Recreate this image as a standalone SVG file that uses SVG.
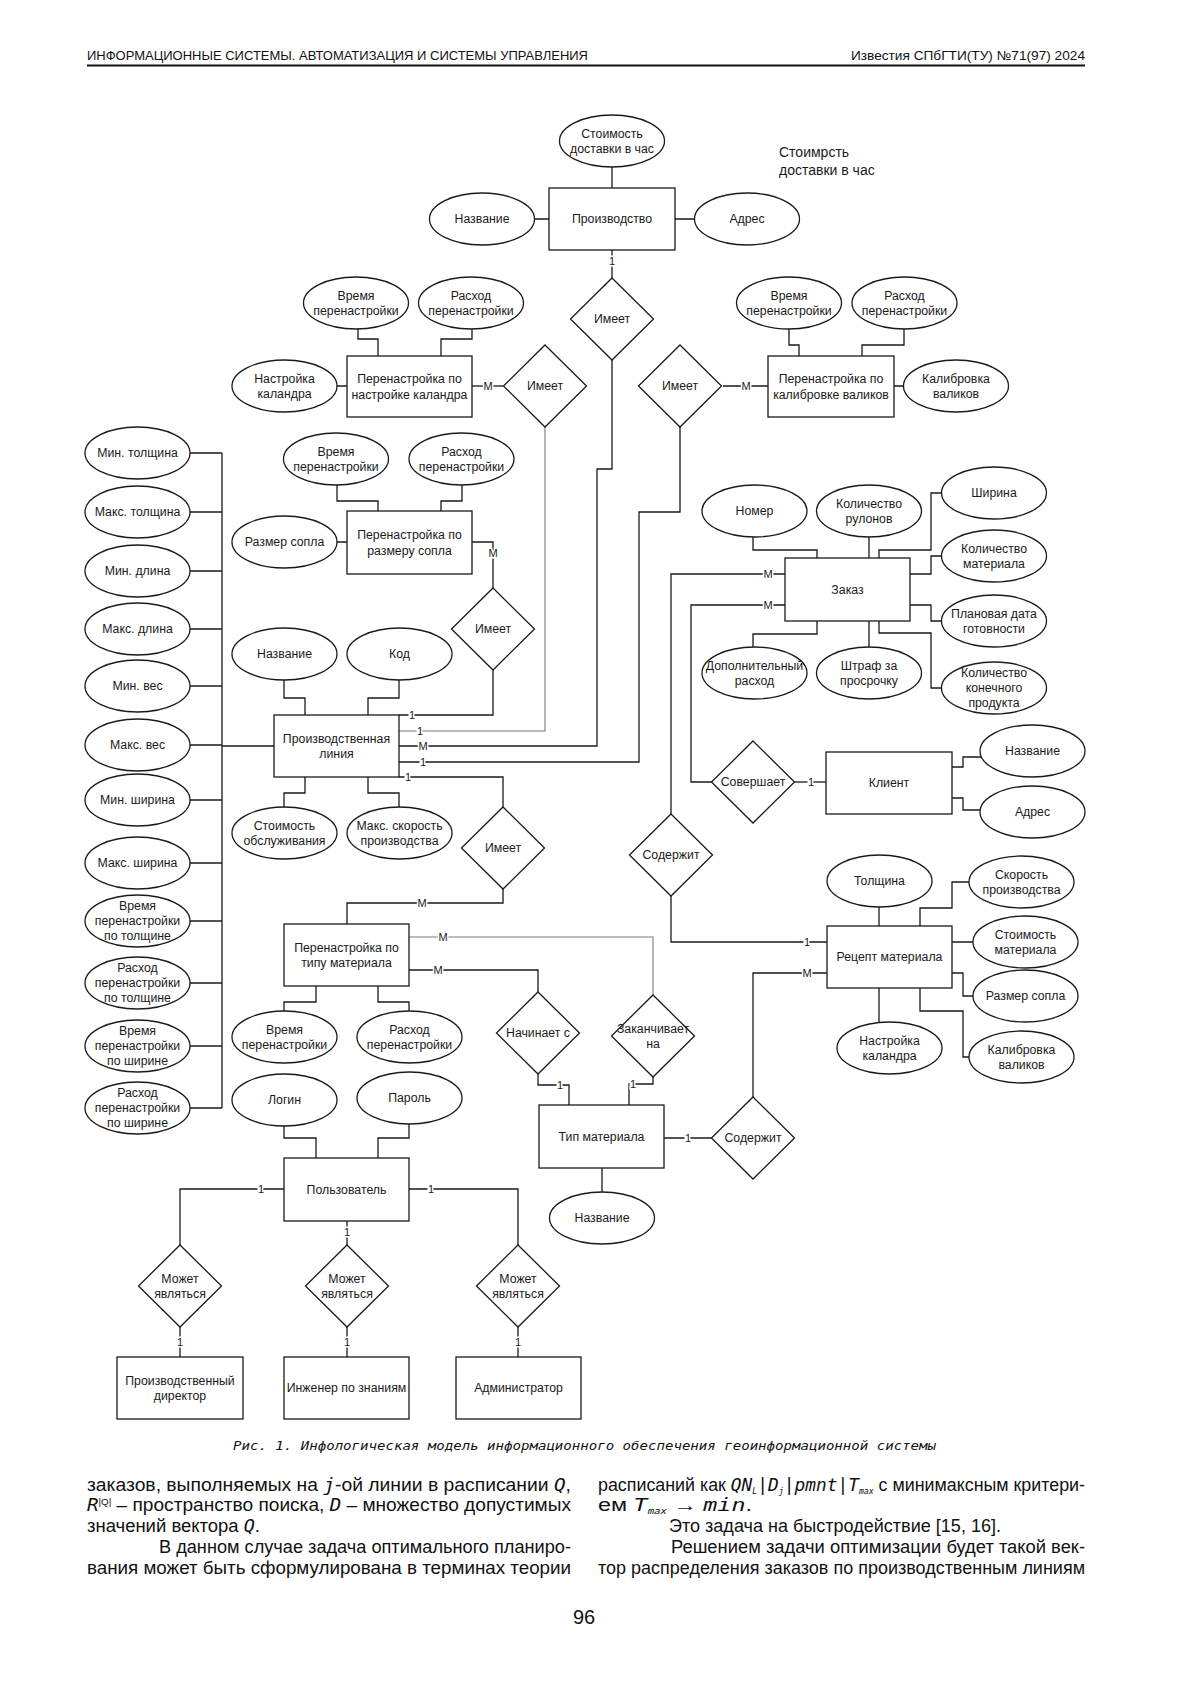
<svg xmlns="http://www.w3.org/2000/svg" width="1200" height="1697" viewBox="0 0 1200 1697">
<style>
.n{fill:#fff;stroke:#1a1a1a;stroke-width:1.3}
.c{fill:none;stroke:#1a1a1a;stroke-width:1.3}
.g{fill:none;stroke:#7a7a7a;stroke-width:1.1}
.t{font-family:"Liberation Sans",Arial,sans-serif;font-size:12.3px;text-anchor:middle;fill:#1a1a1a}
.lb{font-family:"Liberation Sans",Arial,sans-serif;font-size:11px;text-anchor:middle;fill:#1a1a1a;stroke:#fff;stroke-width:3;paint-order:stroke}
.hd{font-family:"Liberation Sans",Arial,sans-serif;font-size:13px;fill:#111}
.bt{font-family:"Liberation Sans",Arial,sans-serif;font-size:17.5px;fill:#111}
.it{font-family:"DejaVu Sans Mono",monospace;font-style:italic}
</style>
<rect width="1200" height="1697" fill="#fff"/>

<!-- header -->
<text class="hd" x="87" y="60" textLength="501" lengthAdjust="spacingAndGlyphs">ИНФОРМАЦИОННЫЕ СИСТЕМЫ. АВТОМАТИЗАЦИЯ И СИСТЕМЫ УПРАВЛЕНИЯ</text>
<text class="hd" x="851" y="60" textLength="234" lengthAdjust="spacingAndGlyphs">Известия СПбГТИ(ТУ) №71(97) 2024</text>
<line x1="87" y1="65.5" x2="1085" y2="65.5" stroke="#111" stroke-width="2.2"/>

<!-- free text -->
<text x="779" y="157" style="font-family:'Liberation Sans',Arial,sans-serif;font-size:14px;fill:#1a1a1a">Стоимрсть</text>
<text x="779" y="175" style="font-family:'Liberation Sans',Arial,sans-serif;font-size:14px;fill:#1a1a1a">доставки в час</text>

<!-- connectors -->
<g id="connectors">
<path class="c" d="M612,167V188M535,219H549M675,219H695M612,250V278"/>
<path class="c" d="M612,360V469H597V746H399"/>
<path class="c" d="M503,386H472"/>
<path class="g" d="M545,427V731H399"/>
<path class="c" d="M723,386H768"/>
<path class="c" d="M680,427V512H639V762H399"/>
<path class="c" d="M472,542H493V588"/>
<path class="c" d="M493,670V715H399"/>
<path class="c" d="M399,777H503V807"/>
<path class="c" d="M503,889V903H347V924"/>
<path class="g" d="M409,937H653V995"/>
<path class="c" d="M409,970H538V992"/>
<path class="c" d="M538,1074V1085H569V1105"/>
<path class="c" d="M653,1077V1084H629V1105"/>
<path class="c" d="M664,1138H712"/>
<path class="c" d="M753,1097V973H827"/>
<path class="c" d="M671,896V942H827"/>
<path class="c" d="M785,574H671V814"/>
<path class="c" d="M785,605H691V782H712"/>
<path class="c" d="M794,782H826"/>
<path class="c" d="M602,1168V1192"/>
<path class="c" d="M284,1189H180V1245M409,1189H518V1245M347,1221V1245"/>
<path class="c" d="M180,1327V1357M347,1327V1357M518,1327V1357"/>
<!-- attribute links -->
<path class="c" d="M358,329V339H378V356M472,329V339H441V356M337,386H347"/>
<path class="c" d="M789,329V345H799V356M904,329V345H862V356M894,386H904"/>
<path class="c" d="M337,485V501H378V511M462,485V501H441V511M337,542H347"/>
<path class="c" d="M284,680V698H305V715M399,680V698H368V715M305,777V793H284V807M368,777V793H399V807"/>
<path class="c" d="M753,537V550H817V558M869,537V558M879,558V550H931V493H942M910,574H931V556H942M910,605H931V621H942M879,621V633H931V688H942M817,621V634H753V647M869,621V647"/>
<path class="c" d="M952,767H963V757H981M952,798H963V810H980"/>
<path class="c" d="M879,907V926M920,926V908H952V882H969M952,942H973M952,973H963V996H973M920,988V1011H963V1057H969M879,988V1022"/>
<path class="c" d="M316,986V1002H284V1011M378,986V1002H409V1011"/>
<path class="c" d="M284,1126V1138H316V1158M409,1124V1138H378V1158"/>
<path class="c" d="M222,453V1108M190,453H222M190,512H222M190,571H222M190,629H222M190,686H222M190,745H222M190,800H222M190,863H222M190,921H222M190,983H222M190,1046H222M190,1108H222M222,746H274"/>
<!-- cardinality labels -->
<text class="lb" x="612" y="265">1</text>
<text class="lb" x="423" y="750">M</text>
<text class="lb" x="488" y="390">M</text>
<text class="lb" x="420" y="735">1</text>
<text class="lb" x="746" y="390">M</text>
<text class="lb" x="423" y="766">1</text>
<text class="lb" x="493" y="557">M</text>
<text class="lb" x="412" y="719">1</text>
<text class="lb" x="408" y="781">1</text>
<text class="lb" x="422" y="907">M</text>
<text class="lb" x="443" y="941">M</text>
<text class="lb" x="438" y="974">M</text>
<text class="lb" x="560" y="1089">1</text>
<text class="lb" x="633" y="1088">1</text>
<text class="lb" x="688" y="1142">1</text>
<text class="lb" x="807" y="977">M</text>
<text class="lb" x="807" y="946">1</text>
<text class="lb" x="768" y="578">M</text>
<text class="lb" x="768" y="609">M</text>
<text class="lb" x="811" y="786">1</text>
<text class="lb" x="261" y="1193">1</text>
<text class="lb" x="431" y="1193">1</text>
<text class="lb" x="347" y="1236">1</text>
<text class="lb" x="180" y="1346">1</text>
<text class="lb" x="347" y="1346">1</text>
<text class="lb" x="518" y="1346">1</text>
</g>

<!-- entities -->
<g id="proizvodstvo"><rect class="n" x="549" y="188" width="126" height="62"/><text class="t" x="612" y="223.3">Производство</text></g>
<g id="per-kalandr"><rect class="n" x="347" y="356" width="125" height="61"/><text class="t" x="409.5" y="383">Перенастройка по</text><text class="t" x="409.5" y="398.5">настройке каландра</text></g>
<g id="per-valik"><rect class="n" x="768" y="356" width="126" height="61"/><text class="t" x="831" y="383">Перенастройка по</text><text class="t" x="831" y="398.5">калибровке валиков</text></g>
<g id="per-sopla"><rect class="n" x="347" y="511" width="125" height="63"/><text class="t" x="409.5" y="539">Перенастройка по</text><text class="t" x="409.5" y="554.5">размеру сопла</text></g>
<g id="prod-line"><rect class="n" x="274" y="715" width="125" height="62"/><text class="t" x="336.5" y="742.5">Производственная</text><text class="t" x="336.5" y="758">линия</text></g>
<g id="zakaz"><rect class="n" x="785" y="558" width="125" height="63"/><text class="t" x="847.5" y="593.8">Заказ</text></g>
<g id="klient"><rect class="n" x="826" y="752" width="126" height="62"/><text class="t" x="889" y="787.3">Клиент</text></g>
<g id="per-tip"><rect class="n" x="284" y="924" width="125" height="62"/><text class="t" x="346.5" y="951.5">Перенастройка по</text><text class="t" x="346.5" y="967">типу материала</text></g>
<g id="recept"><rect class="n" x="827" y="926" width="125" height="62"/><text class="t" x="889.5" y="961.3">Рецепт материала</text></g>
<g id="tip-mat"><rect class="n" x="539" y="1105" width="125" height="63"/><text class="t" x="601.5" y="1140.8">Тип материала</text></g>
<g id="polz"><rect class="n" x="284" y="1158" width="125" height="63"/><text class="t" x="346.5" y="1193.8">Пользователь</text></g>
<g id="direktor"><rect class="n" x="117" y="1357" width="126" height="62"/><text class="t" x="180" y="1384.5">Производственный</text><text class="t" x="180" y="1400">директор</text></g>
<g id="inzhener"><rect class="n" x="284" y="1357" width="125" height="62"/><text class="t" x="346.5" y="1392.3">Инженер по знаниям</text></g>
<g id="admin"><rect class="n" x="456" y="1357" width="125" height="62"/><text class="t" x="518.5" y="1392.3">Администратор</text></g>

<!-- relationships -->
<g id="r-imeet-top"><polygon class="n" points="612,278 653.5,319 612,360 570.5,319"/><text class="t" x="612" y="323.3">Имеет</text></g>
<g id="r-imeet-kal"><polygon class="n" points="545,345 586.5,386 545,427 503.5,386"/><text class="t" x="545" y="390.3">Имеет</text></g>
<g id="r-imeet-val"><polygon class="n" points="680,345 721.5,386 680,427 638.5,386"/><text class="t" x="680" y="390.3">Имеет</text></g>
<g id="r-imeet-sopla"><polygon class="n" points="493,588 534.5,629 493,670 451.5,629"/><text class="t" x="493" y="633.3">Имеет</text></g>
<g id="r-imeet-tip"><polygon class="n" points="503,807 544.5,848 503,889 461.5,848"/><text class="t" x="503" y="852.3">Имеет</text></g>
<g id="r-soderzhit1"><polygon class="n" points="671,814 712.5,855 671,896 629.5,855"/><text class="t" x="671" y="859.3">Содержит</text></g>
<g id="r-sovershaet"><polygon class="n" points="753,741 794.5,782 753,823 711.5,782"/><text class="t" x="753" y="786.3">Совершает</text></g>
<g id="r-nachinaet"><polygon class="n" points="538,992 579.5,1033 538,1074 496.5,1033"/><text class="t" x="538" y="1037.3">Начинает с</text></g>
<g id="r-zakanch"><polygon class="n" points="653,995 694.5,1036 653,1077 611.5,1036"/><text class="t" x="653" y="1032.5">Заканчивает</text><text class="t" x="653" y="1048">на</text></g>
<g id="r-soderzhit2"><polygon class="n" points="753,1097 794.5,1138 753,1179 711.5,1138"/><text class="t" x="753" y="1142.3">Содержит</text></g>
<g id="r-mozhet1"><polygon class="n" points="180,1245 221.5,1286 180,1327 138.5,1286"/><text class="t" x="180" y="1282.5">Может</text><text class="t" x="180" y="1298">являться</text></g>
<g id="r-mozhet2"><polygon class="n" points="347,1245 388.5,1286 347,1327 305.5,1286"/><text class="t" x="347" y="1282.5">Может</text><text class="t" x="347" y="1298">являться</text></g>
<g id="r-mozhet3"><polygon class="n" points="518,1245 559.5,1286 518,1327 476.5,1286"/><text class="t" x="518" y="1282.5">Может</text><text class="t" x="518" y="1298">являться</text></g>

<!-- attributes -->
<g id="a-stoim-dost"><ellipse class="n" cx="612" cy="141" rx="52.5" ry="26"/><text class="t" x="612" y="137.5">Стоимость</text><text class="t" x="612" y="153">доставки в час</text></g>
<g id="a-nazv-pr"><ellipse class="n" cx="482" cy="219" rx="52.5" ry="26"/><text class="t" x="482" y="223.3">Название</text></g>
<g id="a-adres-pr"><ellipse class="n" cx="747" cy="219" rx="52.5" ry="26"/><text class="t" x="747" y="223.3">Адрес</text></g>
<g id="a-vr-kal"><ellipse class="n" cx="356" cy="303" rx="52.5" ry="26"/><text class="t" x="356" y="299.5">Время</text><text class="t" x="356" y="315">перенастройки</text></g>
<g id="a-ras-kal"><ellipse class="n" cx="471" cy="303" rx="52.5" ry="26"/><text class="t" x="471" y="299.5">Расход</text><text class="t" x="471" y="315">перенастройки</text></g>
<g id="a-nastr-kal"><ellipse class="n" cx="284.5" cy="386" rx="52.5" ry="26"/><text class="t" x="284.5" y="382.5">Настройка</text><text class="t" x="284.5" y="398">каландра</text></g>
<g id="a-vr-val"><ellipse class="n" cx="789" cy="303" rx="52.5" ry="26"/><text class="t" x="789" y="299.5">Время</text><text class="t" x="789" y="315">перенастройки</text></g>
<g id="a-ras-val"><ellipse class="n" cx="904.5" cy="303" rx="52.5" ry="26"/><text class="t" x="904.5" y="299.5">Расход</text><text class="t" x="904.5" y="315">перенастройки</text></g>
<g id="a-kalibr-val"><ellipse class="n" cx="956" cy="386" rx="52.5" ry="26"/><text class="t" x="956" y="382.5">Калибровка</text><text class="t" x="956" y="398">валиков</text></g>
<g id="a-vr-sop"><ellipse class="n" cx="336" cy="459" rx="52.5" ry="26"/><text class="t" x="336" y="455.5">Время</text><text class="t" x="336" y="471">перенастройки</text></g>
<g id="a-ras-sop"><ellipse class="n" cx="461.5" cy="459" rx="52.5" ry="26"/><text class="t" x="461.5" y="455.5">Расход</text><text class="t" x="461.5" y="471">перенастройки</text></g>
<g id="a-razm-sop"><ellipse class="n" cx="284.5" cy="542" rx="52.5" ry="26"/><text class="t" x="284.5" y="546.3">Размер сопла</text></g>
<g id="a-nazv-pl"><ellipse class="n" cx="284.5" cy="654" rx="52.5" ry="26"/><text class="t" x="284.5" y="658.3">Название</text></g>
<g id="a-kod-pl"><ellipse class="n" cx="399.5" cy="654" rx="52.5" ry="26"/><text class="t" x="399.5" y="658.3">Код</text></g>
<g id="a-stoim-obsl"><ellipse class="n" cx="284.5" cy="833" rx="52.5" ry="26"/><text class="t" x="284.5" y="829.5">Стоимость</text><text class="t" x="284.5" y="845">обслуживания</text></g>
<g id="a-maks-skor"><ellipse class="n" cx="399.5" cy="833" rx="52.5" ry="26"/><text class="t" x="399.5" y="829.5">Макс. скорость</text><text class="t" x="399.5" y="845">производства</text></g>
<g id="a-min-tol"><ellipse class="n" cx="137.5" cy="453" rx="52.5" ry="26"/><text class="t" x="137.5" y="457.3">Мин. толщина</text></g>
<g id="a-max-tol"><ellipse class="n" cx="137.5" cy="512" rx="52.5" ry="26"/><text class="t" x="137.5" y="516.3">Макс. толщина</text></g>
<g id="a-min-dl"><ellipse class="n" cx="137.5" cy="571" rx="52.5" ry="26"/><text class="t" x="137.5" y="575.3">Мин. длина</text></g>
<g id="a-max-dl"><ellipse class="n" cx="137.5" cy="629" rx="52.5" ry="26"/><text class="t" x="137.5" y="633.3">Макс. длина</text></g>
<g id="a-min-ves"><ellipse class="n" cx="137.5" cy="686" rx="52.5" ry="26"/><text class="t" x="137.5" y="690.3">Мин. вес</text></g>
<g id="a-max-ves"><ellipse class="n" cx="137.5" cy="745" rx="52.5" ry="26"/><text class="t" x="137.5" y="749.3">Макс. вес</text></g>
<g id="a-min-sh"><ellipse class="n" cx="137.5" cy="800" rx="52.5" ry="26"/><text class="t" x="137.5" y="804.3">Мин. ширина</text></g>
<g id="a-max-sh"><ellipse class="n" cx="137.5" cy="863" rx="52.5" ry="26"/><text class="t" x="137.5" y="867.3">Макс. ширина</text></g>
<g id="a-vr-tol"><ellipse class="n" cx="137.5" cy="921" rx="52.5" ry="26"/><text class="t" x="137.5" y="910.3">Время</text><text class="t" x="137.5" y="925.3">перенастройки</text><text class="t" x="137.5" y="940.3">по толщине</text></g>
<g id="a-ras-tol"><ellipse class="n" cx="137.5" cy="983" rx="52.5" ry="26"/><text class="t" x="137.5" y="972.3">Расход</text><text class="t" x="137.5" y="987.3">перенастройки</text><text class="t" x="137.5" y="1002.3">по толщине</text></g>
<g id="a-vr-sh"><ellipse class="n" cx="137.5" cy="1046" rx="52.5" ry="26"/><text class="t" x="137.5" y="1035.3">Время</text><text class="t" x="137.5" y="1050.3">перенастройки</text><text class="t" x="137.5" y="1065.3">по ширине</text></g>
<g id="a-ras-sh"><ellipse class="n" cx="137.5" cy="1108" rx="52.5" ry="26"/><text class="t" x="137.5" y="1097.3">Расход</text><text class="t" x="137.5" y="1112.3">перенастройки</text><text class="t" x="137.5" y="1127.3">по ширине</text></g>
<g id="a-nomer"><ellipse class="n" cx="754.5" cy="511" rx="52.5" ry="26"/><text class="t" x="754.5" y="515.3">Номер</text></g>
<g id="a-kol-rul"><ellipse class="n" cx="869" cy="511" rx="52.5" ry="26"/><text class="t" x="869" y="507.5">Количество</text><text class="t" x="869" y="523">рулонов</text></g>
<g id="a-shirina"><ellipse class="n" cx="994" cy="493" rx="52.5" ry="26"/><text class="t" x="994" y="497.3">Ширина</text></g>
<g id="a-kol-mat"><ellipse class="n" cx="994" cy="556" rx="52.5" ry="26"/><text class="t" x="994" y="552.5">Количество</text><text class="t" x="994" y="568">материала</text></g>
<g id="a-plan-data"><ellipse class="n" cx="994" cy="621" rx="52.5" ry="26"/><text class="t" x="994" y="617.5">Плановая дата</text><text class="t" x="994" y="633">готовности</text></g>
<g id="a-kol-kon"><ellipse class="n" cx="994" cy="688" rx="52.5" ry="26"/><text class="t" x="994" y="677.3">Количество</text><text class="t" x="994" y="692.3">конечного</text><text class="t" x="994" y="707.3">продукта</text></g>
<g id="a-dop-ras"><ellipse class="n" cx="754.5" cy="673" rx="52.5" ry="26"/><text class="t" x="754.5" y="669.5">Дополнительный</text><text class="t" x="754.5" y="685">расход</text></g>
<g id="a-shtraf"><ellipse class="n" cx="869" cy="673" rx="52.5" ry="26"/><text class="t" x="869" y="669.5">Штраф за</text><text class="t" x="869" y="685">просрочку</text></g>
<g id="a-nazv-kl"><ellipse class="n" cx="1032.5" cy="751" rx="52.5" ry="26"/><text class="t" x="1032.5" y="755.3">Название</text></g>
<g id="a-adres-kl"><ellipse class="n" cx="1032.5" cy="812" rx="52.5" ry="26"/><text class="t" x="1032.5" y="816.3">Адрес</text></g>
<g id="a-tolshina"><ellipse class="n" cx="879.5" cy="881" rx="52.5" ry="26"/><text class="t" x="879.5" y="885.3">Толщина</text></g>
<g id="a-skor-pr"><ellipse class="n" cx="1021.5" cy="882" rx="52.5" ry="26"/><text class="t" x="1021.5" y="878.5">Скорость</text><text class="t" x="1021.5" y="894">производства</text></g>
<g id="a-stoim-mat"><ellipse class="n" cx="1025.5" cy="942" rx="52.5" ry="26"/><text class="t" x="1025.5" y="938.5">Стоимость</text><text class="t" x="1025.5" y="954">материала</text></g>
<g id="a-razm-sop2"><ellipse class="n" cx="1025.5" cy="996" rx="52.5" ry="26"/><text class="t" x="1025.5" y="1000.3">Размер сопла</text></g>
<g id="a-kalibr2"><ellipse class="n" cx="1021.5" cy="1057" rx="52.5" ry="26"/><text class="t" x="1021.5" y="1053.5">Калибровка</text><text class="t" x="1021.5" y="1069">валиков</text></g>
<g id="a-nastr2"><ellipse class="n" cx="889.5" cy="1048" rx="52.5" ry="26"/><text class="t" x="889.5" y="1044.5">Настройка</text><text class="t" x="889.5" y="1060">каландра</text></g>
<g id="a-vr-tip"><ellipse class="n" cx="284.5" cy="1037" rx="52.5" ry="26"/><text class="t" x="284.5" y="1033.5">Время</text><text class="t" x="284.5" y="1049">перенастройки</text></g>
<g id="a-ras-tip"><ellipse class="n" cx="409.5" cy="1037" rx="52.5" ry="26"/><text class="t" x="409.5" y="1033.5">Расход</text><text class="t" x="409.5" y="1049">перенастройки</text></g>
<g id="a-login"><ellipse class="n" cx="284.5" cy="1100" rx="52.5" ry="26"/><text class="t" x="284.5" y="1104.3">Логин</text></g>
<g id="a-parol"><ellipse class="n" cx="409.5" cy="1098" rx="52.5" ry="26"/><text class="t" x="409.5" y="1102.3">Пароль</text></g>
<g id="a-nazv-tip"><ellipse class="n" cx="602" cy="1218" rx="52.5" ry="26"/><text class="t" x="602" y="1222.3">Название</text></g>

<!-- caption -->
<text x="233" y="1450" class="it" style="font-size:13px;fill:#111" textLength="703" lengthAdjust="spacingAndGlyphs">Рис. 1. Инфологическая модель информационного обеспечения геоинформационной системы</text>

<!-- body text -->
<text class="bt" x="87" y="1491" textLength="484" lengthAdjust="spacingAndGlyphs">заказов, выполняемых на <tspan class="it">j</tspan>-ой линии в расписании <tspan class="it">Q</tspan>,</text>
<text class="bt" x="87" y="1511" textLength="484" lengthAdjust="spacingAndGlyphs"><tspan class="it">R</tspan><tspan style="font-size:9px" dy="-6">|Q|</tspan><tspan dy="6"> – пространство поиска, </tspan><tspan class="it">D</tspan> – множество допустимых</text>
<text class="bt" x="87" y="1532" textLength="173" lengthAdjust="spacingAndGlyphs">значений вектора <tspan class="it">Q</tspan>.</text>
<text class="bt" x="159" y="1553" textLength="412" lengthAdjust="spacingAndGlyphs">В данном случае задача оптимального планиро-</text>
<text class="bt" x="87" y="1574" textLength="484" lengthAdjust="spacingAndGlyphs">вания может быть сформулирована в терминах теории</text>
<text class="bt" x="598" y="1491" textLength="487" lengthAdjust="spacingAndGlyphs">расписаний как <tspan class="it">QN</tspan><tspan class="it" style="font-size:8px" dy="3">L</tspan><tspan class="it" dy="-3">|D</tspan><tspan class="it" style="font-size:8px" dy="3">j</tspan><tspan class="it" dy="-3">|pmnt|T</tspan><tspan class="it" style="font-size:8px" dy="3">max</tspan><tspan dy="-3"> с минимаксным критери-</tspan></text>
<text class="bt" x="598" y="1511" textLength="154" lengthAdjust="spacingAndGlyphs">ем <tspan class="it">T</tspan><tspan class="it" style="font-size:8px" dy="3">max</tspan><tspan dy="-3"> → </tspan><tspan class="it">min</tspan>.</text>
<text class="bt" x="669" y="1532" textLength="332" lengthAdjust="spacingAndGlyphs">Это задача на быстродействие [15, 16].</text>
<text class="bt" x="671" y="1553" textLength="414" lengthAdjust="spacingAndGlyphs">Решением задачи оптимизации будет такой век-</text>
<text class="bt" x="598" y="1574" textLength="487" lengthAdjust="spacingAndGlyphs">тор распределения заказов по производственным линиям</text>

<text x="584" y="1624" style="font-family:'Liberation Sans',Arial,sans-serif;font-size:20px;fill:#111;text-anchor:middle">96</text>
</svg>
